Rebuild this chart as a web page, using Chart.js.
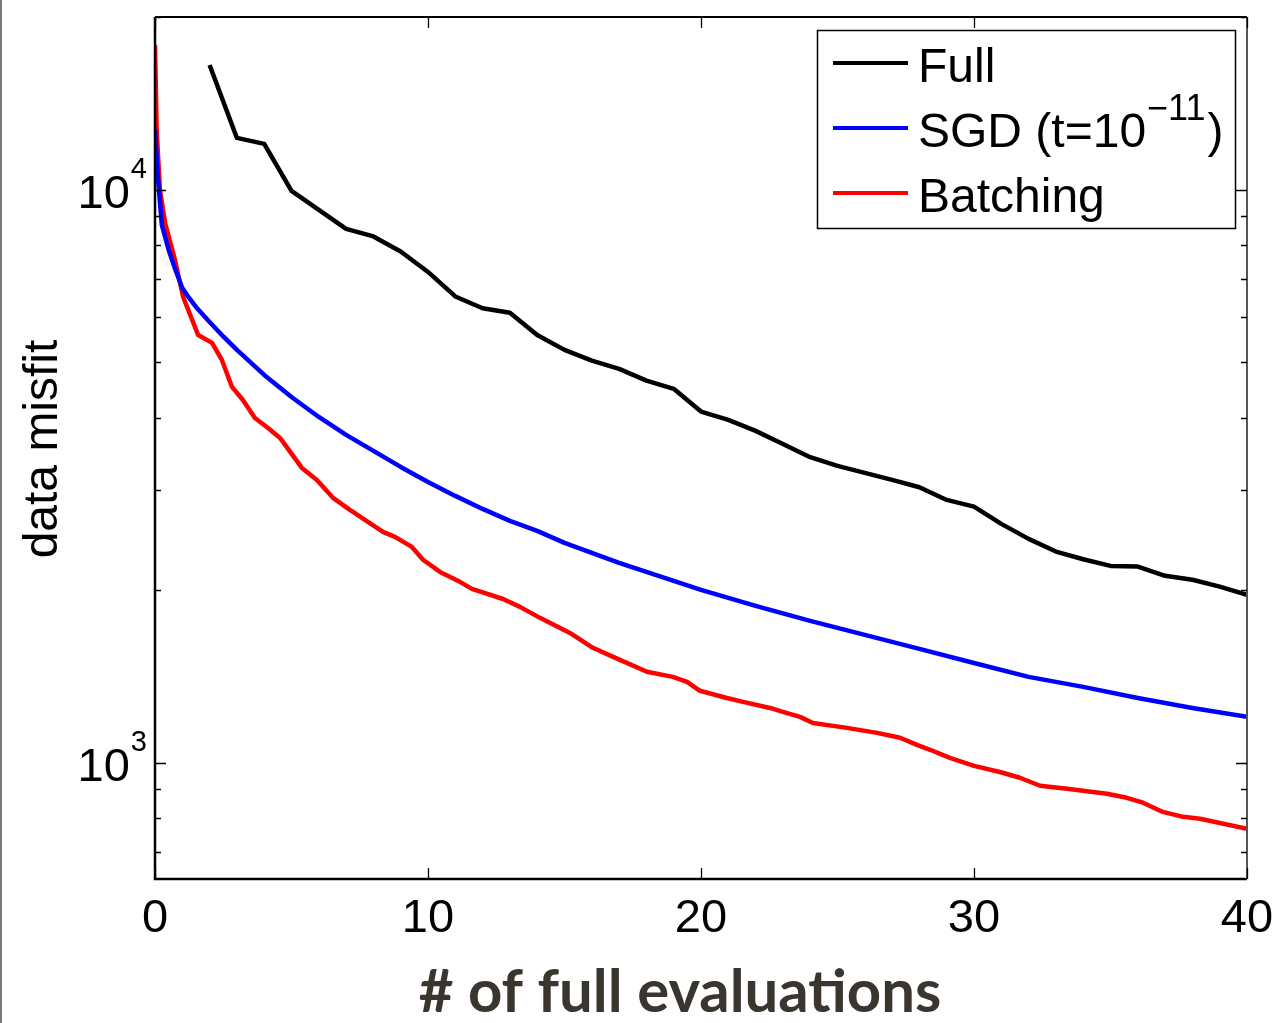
<!DOCTYPE html>
<html lang="en">
<head>
<meta charset="UTF-8">
<title>data misfit vs # of full evaluations</title>
<script src="https://cdn.jsdelivr.net/npm/chart.js"></script>
<style>
  html, body { margin: 0; padding: 0; background: #fff; }
  #wrap { position: relative; width: 1279px; height: 1023px; }
</style>
</head>
<body>
<div id="wrap"><canvas id="misfitChart"></canvas></div>
<script>
// values
var fullX = [2, 3, 4, 5, 6, 7, 8, 9, 10, 11, 12, 13, 14, 15, 16, 17, 18, 19, 20,
             21, 22, 23, 24, 25, 26, 27, 28, 29, 30, 31, 32, 33, 34, 35, 36, 37, 38, 39, 40];
var fullY = [16525, 12326, 12033, 9960, 9228, 8551, 8297, 7810, 7193, 6518, 6216, 6107, 5584, 5258, 5036, 4871, 4647, 4496, 4104,
             3969, 3797, 3603, 3416, 3299, 3208, 3118, 3028, 2877, 2801, 2613, 2460, 2338, 2267, 2207, 2201, 2121, 2087, 2031, 1965];

var sgdX = [0, 0.1, 0.25, 0.5, 0.75, 1, 1.25, 1.5, 2, 2.5, 3, 4, 5, 6, 7, 8, 9, 10, 11, 12, 13, 14, 15,
            16, 17, 18, 19, 20, 22, 24, 26, 28, 30, 32, 34, 36, 38, 40];
var sgdY = [12727, 10621, 8688, 7859, 7252, 6745, 6480, 6249, 5884, 5550, 5258, 4755, 4352, 4016, 3737, 3504, 3285, 3093, 2924, 2775, 2645, 2541, 2421,
            2326, 2234, 2154, 2078, 2004, 1879, 1769, 1673, 1581, 1494, 1413, 1357, 1298, 1247, 1203];

var batchX = [0, 0.06, 0.18, 0.37, 0.73, 1.03, 1.58, 2.09, 2.45, 2.82, 3.22, 3.66, 4.14, 4.58, 5.38, 5.93, 6.52, 7.14, 8.35, 8.79,
              9.41, 9.82, 10.44, 11.17, 11.61, 12.75, 13.37, 14.1, 15.2, 16.04, 16.78, 18.02, 18.97, 19.49, 19.96, 20.95, 21.54, 22.53,
              23.0, 23.63, 24.1, 25.35, 26.45, 27.29, 27.91, 28.39, 29.12, 30.0, 30.95, 31.68, 32.42, 33.41, 34.87, 35.6, 36.19, 36.92,
              37.66, 38.28, 40];
var batchY = [17910, 12727, 10000, 8758, 7548, 6507, 5583, 5408, 5050, 4531, 4300, 4000, 3842, 3691, 3272, 3118, 2901, 2764, 2530, 2480,
              2382, 2262, 2154, 2070, 2012, 1932, 1872, 1791, 1686, 1588, 1531, 1442, 1413, 1385, 1336, 1298, 1278, 1247,
              1227, 1203, 1174, 1151, 1128, 1106, 1075, 1054, 1020, 988, 964, 942, 912, 901, 883, 869, 852, 821,
              805, 799, 767];

var seriesLabels = ['Full', 'SGD (t=10^{\u221211})', 'Batching'];
var seriesColors = ['#000000', '#0000ff', '#ff0000'];

var xTicks = [0, 10, 20, 30, 40];
var yMajor = [1000, 10000];
var yMinor = [700, 800, 900, 2000, 3000, 4000, 5000, 6000, 7000, 8000, 9000, 20000];
var yMajorExp = ['3', '4'];

var xTitle = '# of full evaluations';
var yTitle = 'data misfit';

function pts(xs, ys) {
    return xs.map(function (x, i) { return { x: x, y: ys[i] }; });
}

var FONT = '"Liberation Sans", Arial, Helvetica, sans-serif';

// draw text that may carry a ^{...} superscript
function drawSup(ctx, text, x, y, size, supSize, supRise) {
    var m = text.match(/^(.*)\^\{(.*)\}(.*)$/);
    ctx.textAlign = 'left';
    ctx.textBaseline = 'alphabetic';
    ctx.font = size + 'px ' + FONT;
    if (!m) {
        ctx.fillText(text, x, y);
        return;
    }
    ctx.fillText(m[1], x, y);
    x += ctx.measureText(m[1]).width + 1;
    ctx.font = supSize + 'px ' + FONT;
    ctx.fillText(m[2], x, y - supRise);
    x += ctx.measureText(m[2]).width + 2;
    ctx.font = size + 'px ' + FONT;
    ctx.fillText(m[3], x, y);
}

var framePlugin = {
    id: 'framePlugin',
    afterDatasetsDraw: function (chart) {
        var ctx = chart.ctx, a = chart.chartArea;
        var xs = chart.scales.x, ys = chart.scales.y;
        ctx.save();

        // grey page edge on the far left
        ctx.strokeStyle = '#7a7a7a';
        ctx.lineWidth = 2;
        ctx.beginPath(); ctx.moveTo(1, 0); ctx.lineTo(1, chart.height); ctx.stroke();

        // axes box
        ctx.strokeStyle = '#000';
        ctx.lineWidth = 2.5;
        ctx.beginPath();
        ctx.moveTo(a.left, a.top); ctx.lineTo(a.left, a.bottom); ctx.lineTo(a.right, a.bottom);
        ctx.stroke();
        ctx.lineWidth = 2;
        ctx.beginPath(); ctx.moveTo(a.left, a.top); ctx.lineTo(a.right, a.top); ctx.stroke();
        ctx.strokeStyle = '#555';
        ctx.beginPath(); ctx.moveTo(a.right, a.top); ctx.lineTo(a.right, a.bottom); ctx.stroke();

        // inward ticks
        ctx.strokeStyle = '#000';
        ctx.lineWidth = 1.3;
        function yTick(v, len) {
            var py = Math.round(ys.getPixelForValue(v)) + 0.5;
            ctx.beginPath();
            ctx.moveTo(a.left, py); ctx.lineTo(a.left + len, py);
            ctx.moveTo(a.right, py); ctx.lineTo(a.right - len, py);
            ctx.stroke();
        }
        yMajor.forEach(function (v) { yTick(v, 11); });
        yMinor.forEach(function (v) { yTick(v, 6); });
        xTicks.forEach(function (v) {
            var px = Math.round(xs.getPixelForValue(v)) + 0.5;
            ctx.beginPath();
            ctx.moveTo(px, a.bottom); ctx.lineTo(px, a.bottom - 11);
            ctx.moveTo(px, a.top); ctx.lineTo(px, a.top + 11);
            ctx.stroke();
        });

        // tick labels
        ctx.fillStyle = '#000';
        ctx.font = '47px ' + FONT;
        ctx.textAlign = 'center';
        ctx.textBaseline = 'alphabetic';
        xTicks.forEach(function (v) {
            ctx.fillText(String(v), xs.getPixelForValue(v), a.bottom + 53);
        });
        yMajor.forEach(function (v, i) {
            var py = ys.getPixelForValue(v);
            var rightEdge = a.left - 8;
            ctx.font = '29px ' + FONT;
            var sw = ctx.measureText(yMajorExp[i]).width;
            ctx.textAlign = 'right';
            ctx.fillText(yMajorExp[i], rightEdge, py - 12);
            ctx.font = '47px ' + FONT;
            ctx.fillText('10', rightEdge - sw - 1, py + 18);
        });

        // axis titles
        ctx.save();
        ctx.translate(57, (a.top + a.bottom) / 2 + 1);
        ctx.rotate(-Math.PI / 2);
        ctx.font = '48px ' + FONT;
        ctx.textAlign = 'center';
        ctx.fillText(yTitle, 0, 0);
        ctx.restore();

        var tSize = 50;
        ctx.font = 'bold ' + tSize + 'px Lato, "Open Sans", sans-serif';
        var tw = ctx.measureText(xTitle).width;
        tSize = tSize * 523 / tw;
        ctx.font = 'bold ' + tSize.toFixed(1) + 'px Lato, "Open Sans", sans-serif';
        ctx.fillStyle = '#3a352f';
        ctx.textAlign = 'center';
        ctx.fillText(xTitle, 680, 1012);

        // legend
        var bx = a.right - 430, by = a.top + 13, bw = 418, bh = 198;
        ctx.fillStyle = '#fff';
        ctx.fillRect(bx, by, bw, bh);
        ctx.strokeStyle = '#000';
        ctx.lineWidth = 1.5;
        ctx.strokeRect(bx + 0.5, by + 0.5, bw, bh);
        var rows = [33, 98, 163];
        chart.data.datasets.forEach(function (ds, i) {
            var ry = by + rows[i];
            ctx.strokeStyle = ds.borderColor;
            ctx.lineWidth = 4;
            ctx.beginPath(); ctx.moveTo(bx + 16, ry); ctx.lineTo(bx + 91, ry); ctx.stroke();
            ctx.fillStyle = '#000';
            drawSup(ctx, ds.label, bx + 101, ry + 19, 48, 36, 27);
        });

        ctx.restore();
    }
};

new Chart(document.getElementById('misfitChart'), {
    type: 'line',
    data: {
        datasets: [
            { label: seriesLabels[0], data: pts(fullX, fullY), borderColor: seriesColors[0] },
            { label: seriesLabels[1], data: pts(sgdX, sgdY), borderColor: seriesColors[1] },
            { label: seriesLabels[2], data: pts(batchX, batchY), borderColor: seriesColors[2] }
        ]
    },
    options: {
        responsive: true,
        maintainAspectRatio: false,
        animation: false,
        layout: { padding: { left: 155, top: 17, right: 32, bottom: 144 } },
        plugins: { legend: { display: false }, tooltip: { enabled: false } },
        elements: {
            point: { radius: 0 },
            line: { tension: 0, borderWidth: 4.5, fill: false, borderJoinStyle: 'round', borderCapStyle: 'butt' }
        },
        scales: {
            x: { type: 'linear', min: 0, max: 40, display: false },
            y: { type: 'logarithmic', min: 627, max: 20040, display: false }
        }
    },
    plugins: [framePlugin]
});
</script>
</body>
</html>
